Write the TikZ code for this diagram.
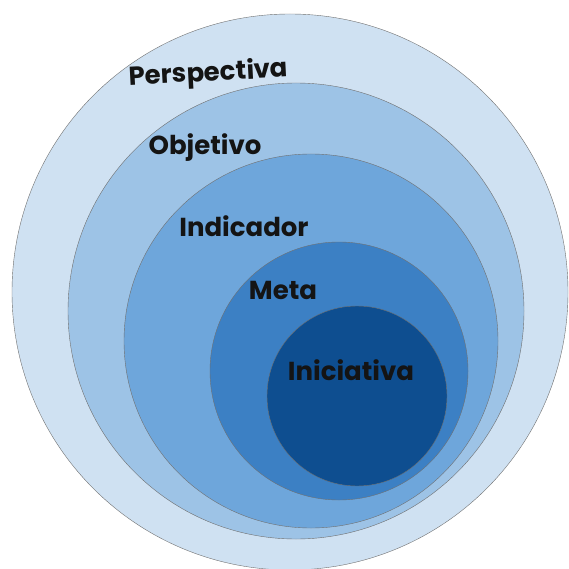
\documentclass[tikz,border=0pt]{standalone}
\usepackage{fontspec}
\setmainfont{Poppins}
\definecolor{ringA}{HTML}{CFE1F2}
\definecolor{ringB}{HTML}{9DC3E6}
\definecolor{ringC}{HTML}{6EA6DB}
\definecolor{ringD}{HTML}{3C80C4}
\definecolor{ringE}{HTML}{0E4E90}
\definecolor{rim}{HTML}{707070}
\definecolor{ink}{HTML}{141414}
\tikzset{lbl/.style={anchor=base,inner sep=0pt,text=ink,font=\fontsize{26}{30}\selectfont\bfseries}}
\begin{document}
\begin{tikzpicture}[x=1pt,y=-1pt]

	\useasboundingbox (0,0) rectangle (568,569);
	\clip (0,0) rectangle (568,569);

	\draw[rim,fill=ringA] (290,292) circle(278); \draw[rim,fill=ringB]
        (296,311) circle(228); \draw[rim,fill=ringC] (311,341)
        circle(187); \draw[rim,fill=ringD] (339,371) circle(129);
        \draw[rim,fill=ringE] (357,396) circle(90);

	\node[lbl,rotate=3] (persp) at (209,81) {Perspectiva};
	\node[lbl] (obj) at (205,155) {Objetivo}; \node[lbl] (ind) at
        (244,236) {Indicador}; \node[lbl] (meta) at (283,299) {Meta};
        \node[lbl] (inic) at (351,380) {Iniciativa};
      \end{tikzpicture}
\end{document}
